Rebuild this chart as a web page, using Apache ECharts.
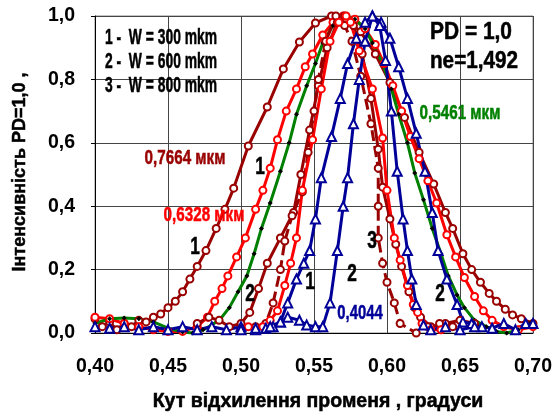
<!DOCTYPE html>
<html>
<head>
<meta charset="utf-8">
<script src="https://cdn.jsdelivr.net/npm/echarts@6/dist/echarts.min.js"></script>
<style>
  html, body { margin: 0; padding: 0; background: #fff; }
  #chart { width: 555px; height: 417px; }
</style>
</head>
<body>
<div id="chart"></div>
<script>
// x ticks, y ticks
var xTicks = [0.40, 0.45, 0.50, 0.55, 0.60, 0.65, 0.70];
var yTicks = [0, 0.2, 0.4, 0.6, 0.8, 1.0];

// 0,7664 mkm, W = 300
var darkRed300 = [[0.400,0.045],[0.405,0.02],[0.410,0.035],[0.415,0.01],[0.420,0.03],[0.425,0.02],[0.430,0.04],[0.435,0.035],[0.440,0.05],[0.445,0.06],[0.450,0.08],[0.455,0.10],[0.460,0.13],[0.465,0.17],[0.470,0.21],[0.476,0.26],[0.483,0.33],[0.489,0.39],[0.495,0.457],[0.505,0.59],[0.518,0.713],[0.529,0.833],[0.540,0.918],[0.551,0.978],[0.562,1.0],[0.572,0.99],[0.582,0.95],[0.592,0.88],[0.602,0.79],[0.612,0.68],[0.622,0.57],[0.632,0.47],[0.640,0.38],[0.645,0.33],[0.652,0.25],[0.658,0.20],[0.664,0.16],[0.670,0.125],[0.675,0.10],[0.681,0.075],[0.686,0.057],[0.692,0.045],[0.700,0.03]];
// 0,6328 mkm, W = 300
var red300 = [[0.400,0.05],[0.410,0.045],[0.420,0.03],[0.430,0.02],[0.440,0.01],[0.450,0.005],[0.460,0.005],[0.470,0.02],[0.477,0.05],[0.482,0.10],[0.487,0.14],[0.491,0.18],[0.497,0.24],[0.503,0.30],[0.510,0.39],[0.515,0.45],[0.520,0.52],[0.525,0.61],[0.531,0.70],[0.538,0.77],[0.544,0.84],[0.549,0.88],[0.556,0.94],[0.563,0.98],[0.570,1.0],[0.578,0.99],[0.585,0.96],[0.592,0.91],[0.598,0.85],[0.604,0.78],[0.610,0.70],[0.616,0.62],[0.622,0.55],[0.628,0.48],[0.634,0.41],[0.641,0.31],[0.647,0.24],[0.653,0.175],[0.660,0.115],[0.666,0.07],[0.672,0.04],[0.680,0.02],[0.690,0.01],[0.700,0.02]];
// 0,5461 mkm
var green300 = [[0.400,0.03],[0.410,0.045],[0.420,0.047],[0.430,0.045],[0.440,0.035],[0.450,0.015],[0.460,0.003],[0.467,0.0],[0.474,0.01],[0.480,0.025],[0.486,0.045],[0.492,0.08],[0.498,0.13],[0.504,0.18],[0.509,0.25],[0.514,0.33],[0.520,0.41],[0.527,0.51],[0.533,0.60],[0.538,0.69],[0.545,0.78],[0.551,0.85],[0.556,0.915],[0.563,0.97],[0.571,1.0],[0.578,0.99],[0.585,0.96],[0.590,0.915],[0.597,0.85],[0.603,0.77],[0.608,0.69],[0.614,0.60],[0.619,0.505],[0.625,0.42],[0.631,0.33],[0.637,0.25],[0.642,0.18],[0.648,0.12],[0.653,0.08],[0.660,0.04],[0.668,0.02],[0.675,0.005],[0.682,0.0],[0.690,0.01],[0.698,0.03],[0.700,0.03]];
// 0,4044 mkm, W = 300
var blue300 = [[0.400,0.02],[0.410,0.015],[0.420,0.02],[0.430,0.01],[0.440,0.02],[0.450,0.01],[0.460,0.02],[0.470,0.01],[0.480,0.02],[0.490,0.01],[0.500,0.02],[0.510,0.01],[0.517,0.015],[0.522,0.02],[0.527,0.035],[0.532,0.095],[0.538,0.17],[0.543,0.22],[0.547,0.26],[0.551,0.36],[0.555,0.49],[0.562,0.62],[0.568,0.74],[0.573,0.85],[0.579,0.93],[0.585,0.98],[0.590,1.0],[0.596,0.98],[0.602,0.93],[0.608,0.84],[0.614,0.74],[0.620,0.63],[0.626,0.51],[0.631,0.38],[0.635,0.26],[0.641,0.17],[0.648,0.09],[0.652,0.035],[0.658,0.03],[0.665,0.02],[0.672,0.015],[0.680,0.03],[0.688,0.01],[0.695,0.03],[0.700,0.03]];
// 0,4044 mkm, W = 600
var blue600 = [[0.500,0.01],[0.510,0.015],[0.520,0.02],[0.527,0.035],[0.532,0.05],[0.540,0.04],[0.545,0.025],[0.551,0.02],[0.556,0.02],[0.561,0.095],[0.566,0.26],[0.570,0.40],[0.573,0.49],[0.577,0.66],[0.581,0.80],[0.585,0.92],[0.590,1.0],[0.595,0.97],[0.599,0.86],[0.603,0.70],[0.607,0.51],[0.611,0.36],[0.614,0.26],[0.617,0.17],[0.620,0.09],[0.625,0.025],[0.630,0.01],[0.640,0.02],[0.650,0.01],[0.660,0.02]];
// 0,7664 mkm, W = 600
var darkRed600 = [[0.470,0.03],[0.478,0.05],[0.485,0.04],[0.492,0.02],[0.500,0.03],[0.506,0.065],[0.512,0.14],[0.518,0.22],[0.527,0.30],[0.536,0.38],[0.541,0.50],[0.547,0.64],[0.553,0.78],[0.559,0.90],[0.566,0.98],[0.571,1.0],[0.577,0.97],[0.583,0.88],[0.589,0.74],[0.594,0.58],[0.597,0.46],[0.602,0.36],[0.606,0.28],[0.610,0.21],[0.615,0.13],[0.619,0.08],[0.623,0.05],[0.630,0.02],[0.640,0.03],[0.650,0.04],[0.660,0.03]];
// 0,6328 mkm, W = 600
var red600 = [[0.505,0.02],[0.515,0.02],[0.520,0.04],[0.525,0.07],[0.530,0.15],[0.534,0.22],[0.538,0.30],[0.542,0.45],[0.549,0.61],[0.555,0.77],[0.561,0.92],[0.567,0.98],[0.572,1.0],[0.575,0.98],[0.581,0.89],[0.590,0.77],[0.597,0.615],[0.600,0.45],[0.605,0.30],[0.609,0.23],[0.614,0.15],[0.618,0.09],[0.621,0.065],[0.624,0.03],[0.630,0.01],[0.637,0.01]];
// 0,7664 mkm, W = 800
var darkRed800 = [[0.500,0.01],[0.510,0.02],[0.517,0.03],[0.522,0.095],[0.527,0.20],[0.530,0.29],[0.535,0.37],[0.542,0.445],[0.546,0.57],[0.550,0.70],[0.553,0.80],[0.558,0.92],[0.565,1.0],[0.571,0.97],[0.576,0.92],[0.582,0.81],[0.589,0.66],[0.594,0.52],[0.594,0.40],[0.594,0.30],[0.597,0.22],[0.600,0.16],[0.605,0.095],[0.609,0.03],[0.620,0.0],[0.628,0.02],[0.636,0.03],[0.645,0.02]];

var C_DARKRED = '#990000', C_RED = '#ff0000', C_GREEN = '#008000', C_BLUE = '#000099';
var FONT = 'Liberation Sans, Arial, sans-serif';

function fmtX(v) { return v.toFixed(2).replace('.', ','); }
function fmtY(v) { return v.toFixed(1).replace('.', ','); }

function curve(name, data, color, symbol, dashed) {
    return {
        name: name,
        type: 'line',
        data: data,
        smooth: false,
        clip: false,
        symbol: symbol,
        symbolSize: symbol === 'triangle' ? 9 : 7,
        lineStyle: { color: color, width: 3, type: dashed ? [11, 5] : 'solid' },
        itemStyle: { color: '#fff', borderColor: color, borderWidth: 2 },
        emphasis: { disabled: true },
        z: 2
    };
}

var greenSeries = curve('0,5461', green300, C_GREEN, 'diamond');
greenSeries.symbolSize = 5;
greenSeries.itemStyle = { color: '#000', borderColor: '#000', borderWidth: 0 };

// condensed bold text, centred on (x, y)
function text(x, y, s, size, color, sx, rot) {
    return {
        type: 'text', x: x, y: y, z: 10,
        scaleX: sx || 1,
        rotation: rot || 0,
        style: {
            text: s, fontSize: size, fill: color || '#000', fontFamily: FONT, fontWeight: 'bold',
            align: 'center', verticalAlign: 'middle', stroke: color || '#000', lineWidth: 0.5
        }
    };
}

var myChart = echarts.init(document.getElementById('chart'));

option = {
    animation: false,
    backgroundColor: '#fff',
    grid: { left: 95, right: 22, top: 16, bottom: 84, show: true, borderColor: '#888', borderWidth: 1 },
    xAxis: {
        type: 'value',
        min: xTicks[0],
        max: xTicks[xTicks.length - 1],
        interval: 0.05,
        axisLine: { show: true, lineStyle: { color: '#000', width: 1 } },
        axisTick: { show: false },
        splitLine: { show: true, lineStyle: { color: '#444', width: 1 } },
        axisLabel: { formatter: fmtX, fontSize: 19.5, fontWeight: 'bold', color: '#000', margin: 24, fontFamily: FONT }
    },
    yAxis: {
        type: 'value',
        min: yTicks[0],
        max: yTicks[yTicks.length - 1],
        interval: 0.2,
        axisLine: { show: true, lineStyle: { color: '#000', width: 1 } },
        axisTick: { show: true, inside: false, length: 4, lineStyle: { color: '#000' } },
        splitLine: { show: true, lineStyle: { color: '#444', width: 1 } },
        axisLabel: { formatter: fmtY, fontSize: 19.5, fontWeight: 'bold', color: '#000', margin: 20, fontFamily: FONT }
    },
    series: [
        curve('0,7664 W300', darkRed300, C_DARKRED, 'circle'),
        curve('0,6328 W300', red300, C_RED, 'circle'),
        greenSeries,
        curve('0,7664 W600', darkRed600, C_DARKRED, 'circle'),
        curve('0,7664 W800', darkRed800, C_DARKRED, 'circle', true),
        curve('0,6328 W600', red600, C_RED, 'circle'),
        curve('0,4044 W300', blue300, C_BLUE, 'triangle'),
        curve('0,4044 W600', blue600, C_BLUE, 'triangle')
    ],
    graphic: [
        text(20, 172, 'Інтенсивність PD=1,0 ,', 18, '#000', 1, Math.PI / 2),
        text(318, 402, 'Кут відхилення променя , градуси', 19.5, '#000', 1),
        text(161, 38, '1 -  W = 300 mkm', 22, '#000', 0.63),
        text(161, 62, '2 -  W = 600 mkm', 22, '#000', 0.63),
        text(161, 86, '3 -  W = 800 mkm', 22, '#000', 0.63),
        text(471, 33, 'PD = 1,0', 23, '#000', 0.91),
        text(474, 62, 'ne=1,492', 23, '#000', 0.9),
        text(460, 113, '0,5461 мкм', 20, C_GREEN, 0.76),
        text(185, 158, '0,7664 мкм', 20, C_DARKRED, 0.76),
        text(204, 215, '0,6328 мкм', 20, C_RED, 0.76),
        text(360, 313, '0,4044', 20, C_BLUE, 0.74),
        text(195, 248, '1', 23, '#000', 0.75),
        text(260, 168, '1', 23, '#000', 0.75),
        text(310, 283, '1', 23, '#000', 0.75),
        text(250, 295, '2', 23, '#000', 0.75),
        text(352, 275, '2', 23, '#000', 0.75),
        text(440, 295, '2', 23, '#000', 0.75),
        text(372, 242, '3', 23, '#000', 0.75)
    ]
};

myChart.setOption(option);
</script>
</body>
</html>
